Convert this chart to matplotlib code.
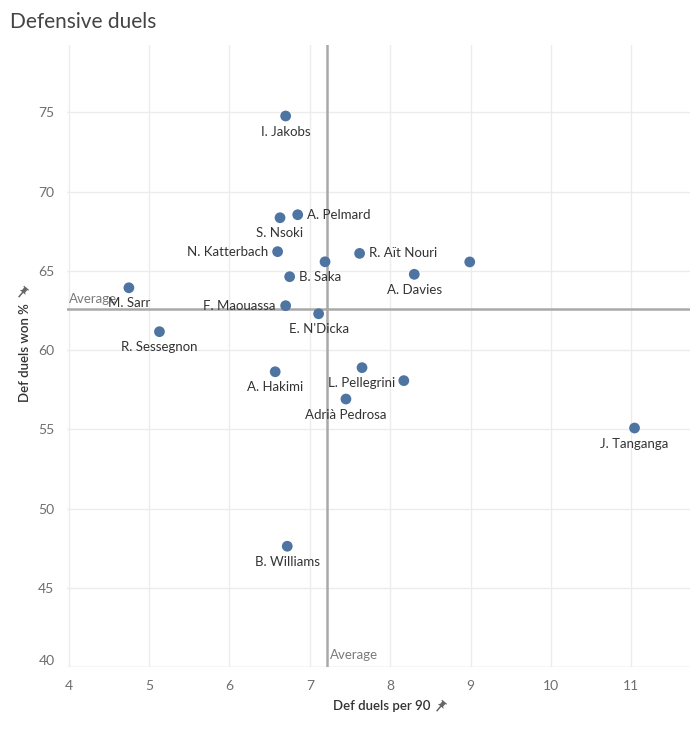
import matplotlib
matplotlib.use("Agg")
import matplotlib.pyplot as plt
import numpy as np
from matplotlib.patches import Polygon
from matplotlib.lines import Line2D

plt.rcParams['font.family'] = ['Lato', 'DejaVu Sans']

players = ["I. Jakobs", "A. Pelmard", "S. Nsoki", "N. Katterbach", "", "B. Saka",
           "M. Sarr", "F. Maouassa", "E. N'Dicka", "R. Sessegnon", "R. Aït Nouri", "",
           "A. Davies", "A. Hakimi", "L. Pellegrini", "", "Adrià Pedrosa", "J. Tanganga",
           "B. Williams"]
duels_per90 = [6.70, 6.85, 6.63, 6.60, 7.19, 6.75, 4.75, 6.70, 7.11, 5.13, 7.62, 8.99,
               8.30, 6.57, 7.65, 8.17, 7.45, 11.04, 6.72]
duels_won = [74.77, 68.54, 68.35, 66.21, 65.57, 64.63, 63.93, 62.80, 62.29, 61.16, 66.10,
             65.56, 64.78, 58.63, 58.89, 58.07, 56.91, 55.08, 47.62]
label_pos = ["below", "right", "below", "left", "none", "right", "below", "left", "below",
             "below", "right", "none", "below", "below", "below", "none", "below", "below",
             "below"]
avg_x = 7.21
avg_y = 62.59
xticks = [4, 5, 6, 7, 8, 9, 10, 11]
yticks = [40, 45, 50, 55, 60, 65, 70, 75]

W, H = 699, 729
fig = plt.figure(figsize=(W / 100, H / 100), dpi=100)
ax = fig.add_axes([67 / W, 1 - 667 / H, (690 - 67) / W, (667 - 45) / H])
ax.set_xlim(3.98, 11.73)
ax.set_ylim(40, 79.25)

for s in ax.spines.values():
    s.set_visible(False)
ax.set_xticks(xticks)
ax.set_yticks(yticks)
ax.grid(True, color="#ececec", linewidth=1)
ax.set_axisbelow(True)
ax.tick_params(axis="both", length=0, colors="#6e6e6e", labelsize=10)
ax.tick_params(axis="x", pad=9)
ax.tick_params(axis="y", pad=9)
for lbl in ax.get_yticklabels():
    if lbl.get_text() == "40":
        lbl.set_va("bottom")
ax.axhline(40, color="#e6e6e6", linewidth=1, zorder=1)

ax.axvline(avg_x, color="#a9a9a9", linewidth=1.8, zorder=2)
ax.axhline(avg_y, color="#a9a9a9", linewidth=1.8, zorder=2)
ax.text(4.0, avg_y + 0.25, "Average", color="#7a7a7a", fontsize=9.5, ha="left", va="bottom", zorder=3)
ax.text(avg_x + 0.04, 40.4, "Average", color="#7a7a7a", fontsize=9.5, ha="left", va="bottom", zorder=3)

ax.scatter(duels_per90, duels_won, s=60, color="#4e74a2", edgecolors="none", zorder=4)

for name, x, y, pos in zip(players, duels_per90, duels_won, label_pos):
    if pos == "none" or not name:
        continue
    if pos == "below":
        off, ha, va = (0, -11.3), "center", "center"
    elif pos == "right":
        off, ha, va = (6.5, 0), "left", "center"
    else:
        off, ha, va = (-7, 0), "right", "center"
    ax.annotate(name, (x, y), xytext=off, textcoords="offset points", ha=ha, va=va,
                fontsize=9.5, color="#333333", zorder=5)

fig.text(10 / W, 1 - 22 / H, "Defensive duels", fontsize=15, color="#444444",
         ha="left", va="center")
fig.text(382 / W, 1 - 706 / H, "Def duels per 90", fontsize=9.5, color="#333333",
         ha="center", va="center", fontweight="semibold")
fig.text(25 / W, 1 - 353 / H, "Def duels won %", fontsize=9.5, color="#333333",
         ha="center", va="center", rotation=90, fontweight="semibold")


def draw_pin(cx, cy_top, angle_deg):
    cy = H - cy_top
    body = np.array([[-3.2, 5.5], [3.2, 5.5], [3.2, 4.3], [2.0, 4.3], [2.0, 1.0],
                     [3.8, -0.5], [-3.8, -0.5], [-2.0, 1.0], [-2.0, 4.3], [-3.2, 4.3]])
    needle = np.array([[0, -0.5], [0, -6.0]])
    a = np.deg2rad(angle_deg)
    R = np.array([[np.cos(a), -np.sin(a)], [np.sin(a), np.cos(a)]])
    b = body @ R.T + [cx, cy]
    n = needle @ R.T + [cx, cy]
    fig.add_artist(Polygon(np.column_stack([b[:, 0] / W, b[:, 1] / H]), closed=True,
                           facecolor="#666666", edgecolor="none", transform=fig.transFigure))
    fig.add_artist(Line2D(n[:, 0] / W, n[:, 1] / H, color="#666666", linewidth=1.1,
                          transform=fig.transFigure))


draw_pin(441, 706, -40)
draw_pin(23, 292, -40)

fig.savefig("out.png", dpi=100, facecolor="white")
